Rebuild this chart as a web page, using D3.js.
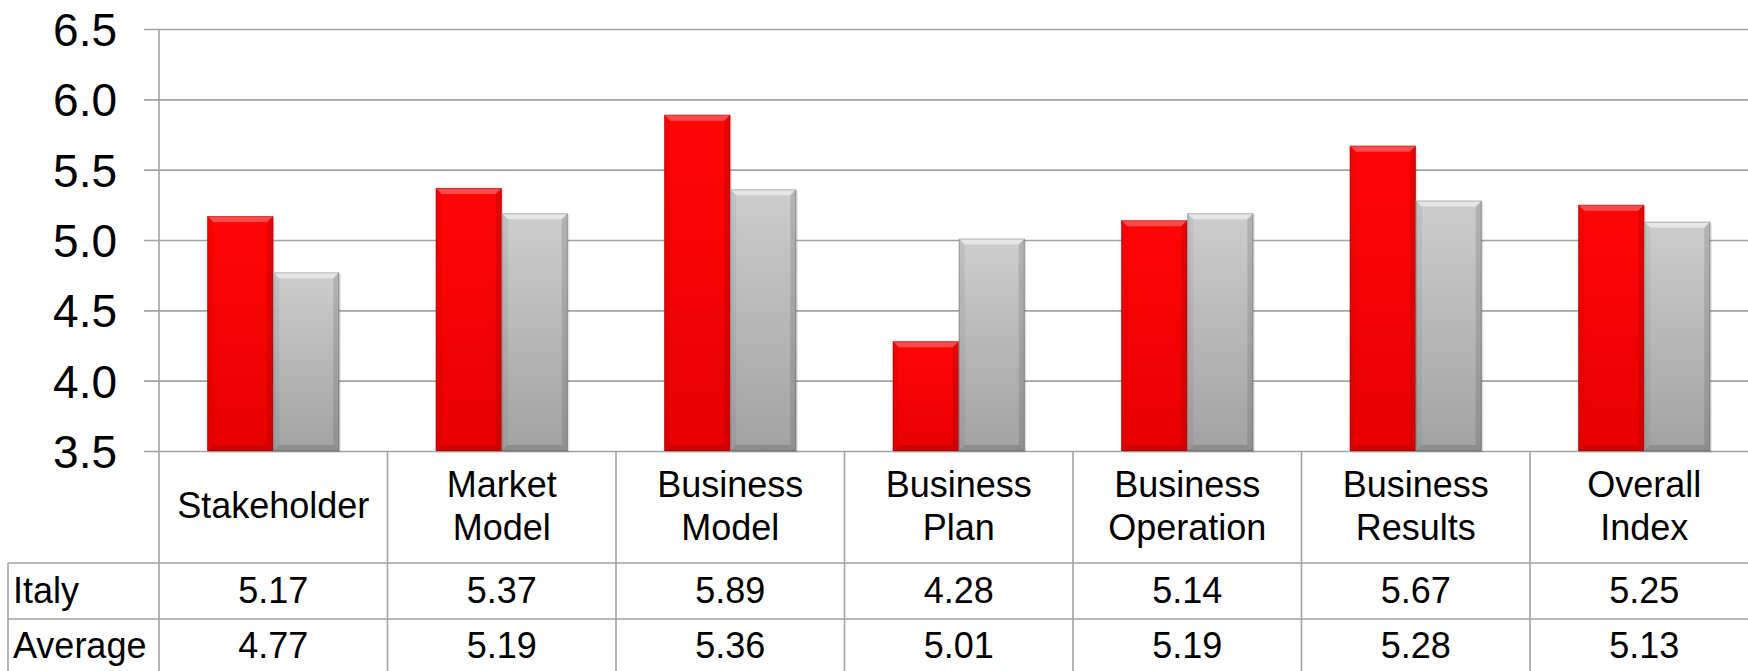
<!DOCTYPE html>
<html lang="en">
    <head>
        <meta charset="utf-8">
        <title>Italy vs Average</title>
        <script type="text/javascript" src="https://cdn.jsdelivr.net/npm/d3@7/dist/d3.min.js"></script>
        <style>
            body { margin: 0; background: #fff; }
            svg text { font-family: "Liberation Sans", Arial, sans-serif; fill: #000; }
        </style>
    </head>

    <body>
        <script type="text/javascript">

            // chart data
            var categories = [["Stakeholder"], ["Market", "Model"], ["Business", "Model"], ["Business", "Plan"],
                              ["Business", "Operation"], ["Business", "Results"], ["Overall", "Index"]];
            var italy_values = [5.17, 5.37, 5.89, 4.28, 5.14, 5.67, 5.25];
            var average_values = [4.77, 5.19, 5.36, 5.01, 5.19, 5.28, 5.13];
            var row_labels = ["Italy", "Average"];
            var y_ticks = [3.5, 4.0, 4.5, 5.0, 5.5, 6.0, 6.5];

            // layout
            var width = 1748, height = 671;
            var plot_left = 159, plot_top = 29, plot_bottom = 451;
            var col_w = 228.5;
            var bar_w = 66;
            var bevel = 6;
            var grid_color = "#a3a3a3";

            var svg = d3.select("body")
                .append("svg")
                .attr("width", width)
                .attr("height", height);

            // gradients for the bars
            var defs = svg.append("defs");
            function add_gradient(id, stops) {
                var g = defs.append("linearGradient")
                    .attr("id", id)
                    .attr("x1", 0).attr("y1", 0).attr("x2", 0).attr("y2", 1);
                stops.forEach(function(s) {
                    g.append("stop").attr("offset", s[0]).attr("stop-color", s[1]);
                });
            }
            add_gradient("red_grad", [[0, "#ff0606"], [1, "#e80000"]]);
            add_gradient("gray_grad", [[0, "#cdcdcd"], [1, "#a2a2a2"]]);

            var y = d3.scaleLinear().domain([3.5, 6.5]).range([plot_bottom, plot_top]);
            var x = d3.scaleBand()
                .domain(d3.range(categories.length))
                .range([plot_left, plot_left + col_w * categories.length]);

            // gridlines + y ticks
            var y_axis = d3.axisLeft(y)
                .tickValues(y_ticks)
                .tickFormat(d3.format(".1f"))
                .tickSize(-(width - plot_left))
                .tickPadding(42);
            var gy = svg.append("g")
                .attr("transform", "translate(" + plot_left + ",0)")
                .call(y_axis);
            gy.select(".domain").remove();
            gy.selectAll(".tick line")
                .attr("x1", -15)
                .attr("stroke", grid_color)
                .attr("stroke-width", 1.6);
            gy.selectAll(".tick text")
                .attr("font-size", 46)
                .attr("font-family", "Liberation Sans, Arial, sans-serif")
                .attr("fill", "#000")
                .attr("dy", "0.36em");

            // vertical axis line
            svg.append("line")
                .attr("x1", plot_left).attr("x2", plot_left)
                .attr("y1", plot_top).attr("y2", height)
                .attr("stroke", grid_color).attr("stroke-width", 1.6);

            // draw one bevelled bar
            function draw_bar(g, x0, v, grad, light, dark) {
                var y0 = y(v), h = plot_bottom - y0, x1 = x0 + bar_w;
                var bar = g.append("g");
                bar.append("rect")
                    .attr("x", x0 + 1.5).attr("y", y0 + 1.5)
                    .attr("width", bar_w).attr("height", h)
                    .attr("fill", "#000").attr("opacity", 0.12);
                bar.append("rect")
                    .attr("x", x0).attr("y", y0)
                    .attr("width", bar_w).attr("height", h)
                    .attr("fill", "url(#" + grad + ")");
                // top bevel
                bar.append("polygon")
                    .attr("points", [[x0, y0], [x1, y0], [x1 - bevel, y0 + bevel], [x0 + bevel, y0 + bevel]].join(" "))
                    .attr("fill", light).attr("opacity", 0.5);
                // right bevel
                bar.append("polygon")
                    .attr("points", [[x1, y0], [x1, y0 + h], [x1 - bevel, y0 + h - bevel], [x1 - bevel, y0 + bevel]].join(" "))
                    .attr("fill", dark).attr("opacity", 0.18);
                // left bevel
                bar.append("polygon")
                    .attr("points", [[x0, y0], [x0 + bevel, y0 + bevel], [x0 + bevel, y0 + h - bevel], [x0, y0 + h]].join(" "))
                    .attr("fill", dark).attr("opacity", 0.08);
                // bottom bevel
                bar.append("polygon")
                    .attr("points", [[x0, y0 + h], [x0 + bevel, y0 + h - bevel], [x1 - bevel, y0 + h - bevel], [x1, y0 + h]].join(" "))
                    .attr("fill", dark).attr("opacity", 0.22);
                bar.append("rect")
                    .attr("x", x0 + 0.5).attr("y", y0 + 0.5)
                    .attr("width", bar_w - 1).attr("height", h - 1)
                    .attr("fill", "none").attr("stroke", dark).attr("stroke-opacity", 0.3);
            }

            var bars = svg.append("g");
            categories.forEach(function(c, i) {
                var cx = x(i) + x.bandwidth() / 2;
                draw_bar(bars, cx - bar_w, italy_values[i], "red_grad", "#ff9090", "#700000");
                draw_bar(bars, cx, average_values[i], "gray_grad", "#ffffff", "#404040");
            });

            // data table under the chart
            var header_bottom = 563, row_h = 56;
            var table = svg.append("g");
            var line_attr = function(sel) {
                return sel.attr("stroke", grid_color).attr("stroke-width", 1.6);
            };
            // horizontal lines
            [header_bottom, header_bottom + row_h].forEach(function(yy) {
                table.append("line").call(line_attr)
                    .attr("x1", 8).attr("x2", width).attr("y1", yy).attr("y2", yy);
            });
            // vertical lines
            table.append("line").call(line_attr)
                .attr("x1", 8).attr("x2", 8).attr("y1", header_bottom).attr("y2", height);
            d3.range(1, categories.length + 1).forEach(function(i) {
                var xx = plot_left + col_w * i;
                table.append("line").call(line_attr)
                    .attr("x1", xx).attr("x2", xx).attr("y1", plot_bottom).attr("y2", height);
            });

            // category headers
            categories.forEach(function(lines, i) {
                var cx = x(i) + x.bandwidth() / 2;
                var t = table.append("text")
                    .attr("text-anchor", "middle")
                    .attr("font-size", 36);
                if (lines.length == 1) {
                    t.append("tspan").attr("x", cx).attr("y", 518).text(lines[0]);
                } else {
                    t.append("tspan").attr("x", cx).attr("y", 497).text(lines[0]);
                    t.append("tspan").attr("x", cx).attr("y", 540).text(lines[1]);
                }
            });

            // row labels and values
            var rows = [italy_values, average_values];
            rows.forEach(function(vals, r) {
                var base = 603 + r * 55;
                table.append("text")
                    .attr("x", 13).attr("y", base)
                    .attr("font-size", 36)
                    .text(row_labels[r]);
                vals.forEach(function(v, i) {
                    table.append("text")
                        .attr("x", x(i) + x.bandwidth() / 2)
                        .attr("y", base)
                        .attr("text-anchor", "middle")
                        .attr("font-size", 36)
                        .text(d3.format(".2f")(v));
                });
            });
        </script>
    </body>
</html>
